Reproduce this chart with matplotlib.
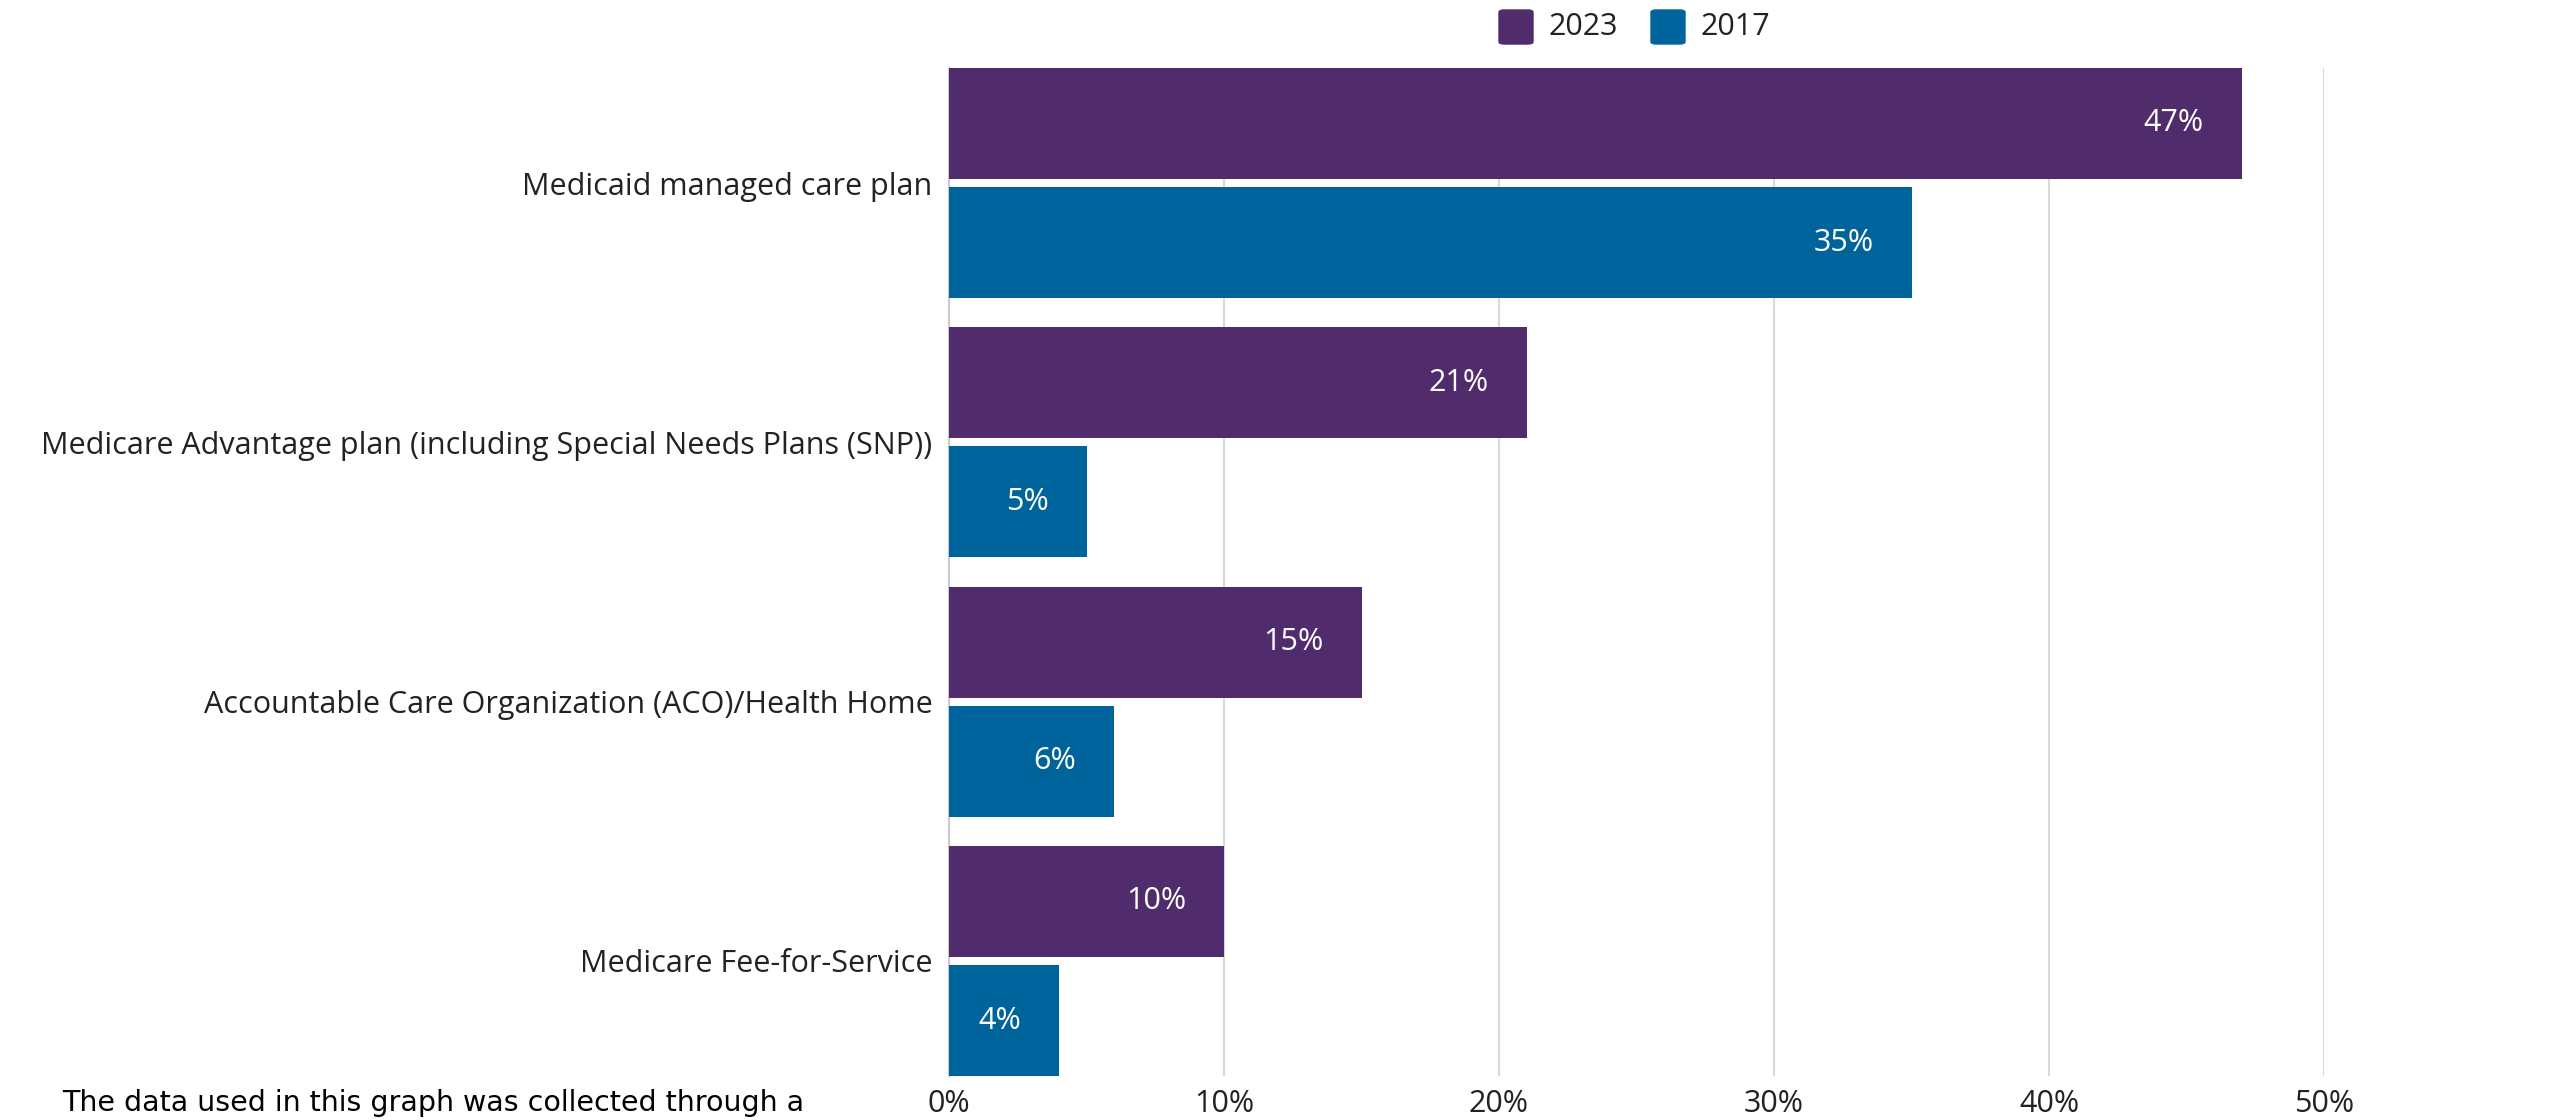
import numpy as np
import matplotlib.pyplot as plt
from matplotlib.patches import FancyBboxPatch

plt.rcParams['font.family'] = ['Open Sans', 'DejaVu Sans']

categories = [
    'Medicaid managed care plan',
    'Medicare Advantage plan (including Special Needs Plans (SNP))',
    'Accountable Care Organization (ACO)/Health Home',
    'Medicare Fee-for-Service',
]
vals_2023 = [47, 21, 15, 10]
vals_2017 = [35, 5, 6, 4]
series_names = ['2023', '2017']
colors = ['#512C6C', '#00649C']
xticks = [0, 10, 20, 30, 40, 50]

fig = plt.figure(figsize=(25.52, 11.2), dpi=100)
ax = fig.add_axes([949 / 2552, 1 - 1076 / 1120, (2324 - 949) / 2552, (1076 - 68) / 1120])

y = np.arange(len(categories))
h = 0.428
off = 0.2295
for vals, dy, c in [(vals_2023, -off, colors[0]), (vals_2017, off, colors[1])]:
    bars = ax.barh(y + dy, vals, height=h, color=c, zorder=3)
    for b, v in zip(bars, vals):
        ax.annotate(f'{v}%', (v, b.get_y() + b.get_height() / 2),
                    xytext=(-38, 0), textcoords='offset pixels',
                    ha='right', va='center', color='white', fontsize=22, zorder=4)

ax.set_xlim(0, 50)
ax.set_ylim(len(categories) - 1 + 0.4435, -0.4435)
ax.set_xticks(xticks)
ax.set_xticklabels([f'{t}%' for t in xticks], fontsize=22, color='#222222')
ax.set_yticks(y)
ax.set_yticklabels(categories, fontsize=22, color='#222222')
ax.tick_params(axis='both', length=0)
ax.tick_params(axis='x', pad=9)
ax.tick_params(axis='y', pad=12)
ax.grid(axis='x', color='#d9d9d9', linewidth=1.5, zorder=0)
for s in ['top', 'right', 'bottom']:
    ax.spines[s].set_visible(False)
ax.spines['left'].set_color('#cccccc')
ax.spines['left'].set_linewidth(1.5)

# legend across the top
for i, (name, c) in enumerate(zip(series_names, colors)):
    x0 = 1499 + i * 152
    fig.patches.append(FancyBboxPatch((x0 / 2552, 1 - 44 / 1120), 34 / 2552, 34 / 1120,
                                      boxstyle='round,pad=0,rounding_size=0.002',
                                      transform=fig.transFigure, color=c))
    fig.text((x0 + 50) / 2552, 1 - 27 / 1120, name, fontsize=22, va='center',
             color='#222222')

fig.text(62 / 2552, 1 - 1103 / 1120, 'The data used in this graph was collected through a',
         fontsize=20.5, va='center', color='black', family='DejaVu Sans')

fig.savefig('out.png', dpi=100, facecolor='white')
